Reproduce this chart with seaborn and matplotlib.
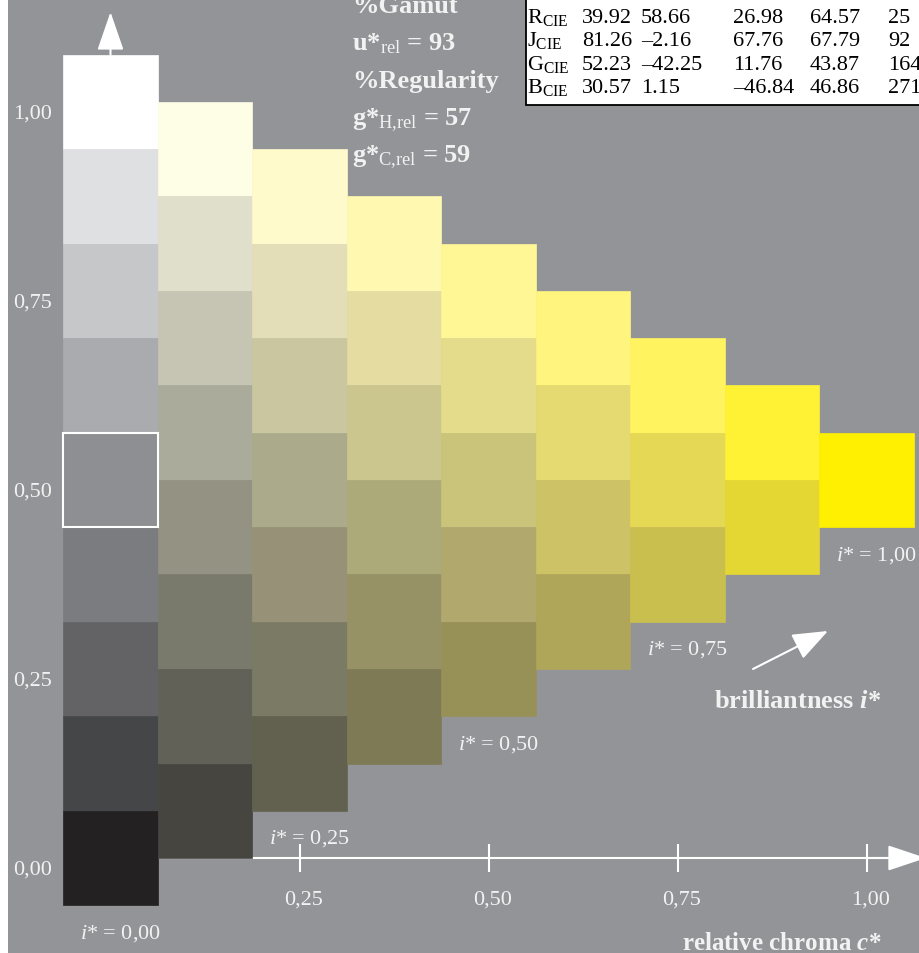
import seaborn as sns
import matplotlib.pyplot as plt
from matplotlib.patches import Rectangle

# relative chroma of each column and the cell colours, top to bottom
chroma = [0.0, 0.125, 0.25, 0.375, 0.5, 0.625, 0.75, 0.875, 1.0]
col_colors = [
    ['#ffffff', '#dfe0e2', '#c6c7c9', '#aaabaf', '#8e8f93', '#7b7c80', '#636366', '#454648', '#232122'],
    ['#fefde6', '#e0dfcb', '#c6c5b3', '#aaab9b', '#939283', '#7a7a6c', '#616157', '#464540'],
    ['#fefacc', '#e3deb8', '#c9c6a0', '#abab8c', '#979177', '#7b7a64', '#626150'],
    ['#fef8b0', '#e4dca0', '#cbc68e', '#adaa7a', '#969266', '#7e7a55'],
    ['#fff796', '#e4dc8a', '#cac47a', '#b0a86c', '#979158'],
    ['#fff47d', '#e5d972', '#cdc265', '#afa659'],
    ['#fff35f', '#e5d855', '#c9bf4f'],
    ['#fff235', '#e5d733'],
    ['#ffef00'],
]
step = 0.125

tick_vals = [0.0, 0.25, 0.5, 0.75, 1.0]
tick_labels = ['0,00', '0,25', '0,50', '0,75', '1,00']
brill_vals = [0.0, 0.25, 0.5, 0.75, 1.0]

table_rows = ['R', 'J', 'G', 'B']
table_vals = [
    ['39.92', '58.66', '26.98', '64.57', '25'],
    ['81.26', '–2.16', '67.76', '67.79', '92'],
    ['52.23', '–42.25', '11.76', '43.87', '164'],
    ['30.57', '1.15', '–46.84', '46.86', '271'],
]
info_lines = ['%Gamut', 'u*$_{\\mathrm{rel}}$ = 93', '%Regularity',
              'g*$_{\\mathrm{H{,}rel}}$ = 57', 'g*$_{\\mathrm{C{,}rel}}$ = 59']

bg = '#939498'
fg = '#f2f2f2'

sns.set_theme(style='white', rc={'axes.facecolor': bg, 'figure.facecolor': 'white'})
plt.rcParams['font.family'] = ['Liberation Serif', 'DejaVu Serif']
plt.rcParams['mathtext.fontset'] = 'custom'
plt.rcParams['mathtext.rm'] = 'Liberation Serif'
plt.rcParams['mathtext.it'] = 'Liberation Serif:italic'
plt.rcParams['mathtext.bf'] = 'Liberation Serif:bold'
plt.rcParams['mathtext.bfit'] = 'Liberation Serif:italic:bold'

fig = plt.figure(figsize=(9.19, 9.54), dpi=100)
ax = fig.add_axes([8 / 919, 0, 911 / 919, 1])
ax.set_xlim(-0.13558, 1.06944)
ax.set_ylim(-0.12566, 1.13624)
sns.despine(ax=ax, left=True, bottom=True)
ax.set_xticks([])
ax.set_yticks([])

# axes lines (under the cells)
ax.plot([0, 1.03], [0, 0], color='white', lw=1.5, zorder=1)
ax.vlines(tick_vals[1:], -0.0185, 0.0185, color='white', lw=1.5, zorder=1)
ax.annotate('', xy=(1.0787, 0), xytext=(1.0, 0), annotation_clip=False,
            arrowprops=dict(arrowstyle='-|>,head_length=2.4,head_width=0.8',
                            color='white', lw=1.5, shrinkA=0, shrinkB=0, mutation_scale=10))
ax.annotate('', xy=(0, 1.119), xytext=(0, 1.0625),
            arrowprops=dict(arrowstyle='-|>,head_length=2.4,head_width=0.83',
                            color='white', lw=1.5, shrinkA=0, shrinkB=0, mutation_scale=10))

# colour cells
for c, cols in zip(chroma, col_colors):
    tops = [1 - c / 2 - k * step for k in range(len(cols))]
    ax.bar([c] * len(cols), [step] * len(cols), width=step,
           bottom=[t - step / 2 for t in tops], color=cols,
           edgecolor=cols, linewidth=0.5, zorder=2)

# marked grey cell
ax.add_patch(Rectangle((-step / 2, 0.5 - step / 2), step, step, fill=False,
                       edgecolor='white', lw=1.5, zorder=3))

# tick labels
for v, lab in zip(tick_vals, tick_labels):
    ax.text(-0.129, v - 0.021, lab, color=fg, fontsize=16, ha='left', va='baseline')
    if v > 0:
        ax.text(v + 0.006, -0.0608, lab, color=fg, fontsize=16, ha='center', va='baseline')

for v, lab in zip(brill_vals, tick_labels):
    ax.text(v + 0.0126, 0.0198 + (v - 0.25) / 2, '$i$* = ' + lab, color=fg,
            fontsize=16, ha='center', va='baseline')

ax.annotate('', xy=(0.949, 0.3003), xytext=(0.8499, 0.25),
            arrowprops=dict(arrowstyle='-|>,head_length=2.2,head_width=0.85',
                            color='white', lw=1.5, shrinkA=0, shrinkB=0, mutation_scale=10))
ax.text(0.9094, 0.1997, 'brilliantness $\\mathbfit{i}$*', color=fg, fontsize=19,
        fontweight='bold', ha='center', va='baseline')
ax.text(0.888, -0.1204, 'relative chroma $\\mathbfit{c}$*', color=fg, fontsize=18,
        fontweight='bold', ha='center', va='baseline')

# info text
for i, line in enumerate(info_lines):
    ax.text(0.3194, 1.1191 - i * 0.0496, line, color=fg, fontsize=19,
            fontweight='bold', ha='left', va='baseline')

# table
ax.add_patch(Rectangle((0.5496, 0.996), 0.6, 0.3, facecolor='white',
                       edgecolor='black', lw=1.3, zorder=4, clip_on=False))
col_x = [0.6237, 0.7017, 0.8234, 0.9253, 1.0284]
for r, (name, vals) in enumerate(zip(table_rows, table_vals)):
    y = 1.1058 - r * 0.0309
    ax.text(0.5509, y, name + '$_{\\mathrm{CIE}}$', color='black', fontsize=16,
            va='baseline', zorder=5)
    for x, v in zip(col_x, vals):
        ax.text(x, y, v, color='black', fontsize=16, va='baseline', zorder=5)

fig.savefig('out.png', dpi=100, facecolor='white')
